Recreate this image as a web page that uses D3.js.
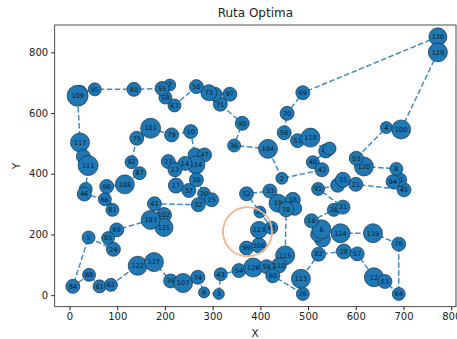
<!DOCTYPE html>
<html>
<head>
<meta charset="utf-8">
<script src="https://cdn.jsdelivr.net/npm/d3@7"></script>
<style>
  html, body { margin: 0; padding: 0; background: #fff; }
  svg { display: block; font-family: "DejaVu Sans", sans-serif; }
</style>
</head>
<body>
<div id="chart"></div>
<script>
// nodes listed in the order of the optimal route
const nodeIds = [
  "130","69","70","56","51","118","49","","40","42","2","104","36","90","71","97","","73","50","63","58","7","55","80","95","","109",
  "117","","111","","46","66","81","96","108","87","92","75","101","79","10","","47","114","14","27","13","17","37","30","20","15","32",
  "41","102","125","103","68","85","24","5","84","88","61","62","122","127","39","107","74","9","3","43","54","126","99","106","123",
  "98","25","52","33","19","18","","78","115","110","59","60","26","113","82","28","57","12","83","64","76","119","124","","","6",
  "16","38","31","91","","35","21","45","11","94","8","120","53","4","100","129"
];
const nodeX = [
  772,489,456,450,478,505,537,545,510,529,445,416,345,362,316,336,305,292,266,220,201,210,194,135,53,22,17,
  22,29,39,34,31,74,90,78,116,147,130,141,170,214,254,263,283,265,242,207,221,223,250,266,282,298,270,
  178,198,198,170,99,81,92,40,7,41,63,87,143,177,212,238,269,282,313,317,355,385,371,397,397,
  423,399,371,420,437,468,472,454,452,439,413,426,489,485,522,575,603,638,661,690,690,636,568,530,520,528,
  507,554,573,521,562,573,600,701,692,678,685,617,601,664,695,772
];
const nodeY = [
  851,667,599,535,509,519,475,483,438,413,385,482,493,566,629,662,662,667,687,625,651,692,681,678,678,668,657,
  503,457,427,350,333,316,281,358,365,402,438,517,550,528,539,462,462,429,434,440,413,361,345,380,334,314,298,
  301,264,223,248,215,188,151,190,29,67,29,34,97,109,47,40,59,9,4,69,81,91,155,164,215,
  222,274,334,343,303,314,286,283,131,98,94,64,4,54,135,144,136,59,45,4,168,204,204,185,200,217,
  245,281,290,350,362,380,365,347,380,374,416,424,451,552,546,800
];
// relative weight of each node (marker size)
const nodeW = [
  9,7,7,7,7,9.5,7,6.5,6.5,7,6,9.5,6.5,7,7,7,7,8,7,6.5,6.5,6,7,7,6.5,7,10.5,
  9.5,7,10,6.5,7,6.5,6.5,7,9.5,6.5,6.5,7,10,7,7,7,7,9,7,7,7,7.5,7,7,6.5,7,7,
  7,7.5,9,9.5,7,6.5,7,6.5,7,6.5,6.5,6.5,9.5,9.5,7,9.5,7,5.5,5.5,6.5,7,9.5,7,7.5,8.5,
  6.5,6,7,7,9,7.5,7,7.5,9.5,7.5,7,7,6.5,9.5,7,7.5,7,9.5,7,6.5,7,9.5,9.5,8,7,9.5,
  7,6.5,7,6.5,7,7.5,7,7,7,7,6.5,9.5,7,6,9.5,9.5
];
const xTicks = [0,100,200,300,400,500,600,700,800];
const yTicks = [0,200,400,600,800];
const highlight = { x: 373, y: 209 };

const W = 457, H = 339;
const plot = { left: 54.7, right: 456, top: 25, bottom: 306.7 };

const x = d3.scaleLinear().domain([-31, 810]).range([plot.left, plot.right]);
const y = d3.scaleLinear().domain([-38, 890]).range([plot.bottom, plot.top]);

const nodes = nodeIds.map((id, i) => ({ id, x: nodeX[i], y: nodeY[i], w: nodeW[i] }));

const svg = d3.select("#chart").append("svg")
  .attr("width", W).attr("height", H);

// route, closed loop
const route = nodes.concat([nodes[0]]);
svg.append("path")
  .attr("d", d3.line().x(d => x(d.x)).y(d => y(d.y))(route))
  .attr("fill", "none")
  .attr("stroke", "#3d8cc4")
  .attr("stroke-width", 1.5)
  .attr("stroke-dasharray", "5.5,2.5");

const g = svg.append("g").selectAll("g")
  .data(nodes)
  .join("g")
  .attr("transform", d => `translate(${x(d.x)},${y(d.y)})`);

g.append("circle")
  .attr("r", d => d.w)
  .attr("fill", "#1f77b4")
  .attr("stroke", "#15314a")
  .attr("stroke-width", 0.7);

g.append("text")
  .attr("text-anchor", "middle")
  .attr("dy", "0.35em")
  .attr("font-size", 6.5)
  .attr("fill", "#0d1b2a")
  .text(d => d.id);

// highlight ring
svg.append("circle")
  .attr("cx", x(highlight.x)).attr("cy", y(highlight.y))
  .attr("r", 24.5)
  .attr("fill", "none")
  .attr("stroke", "#f2b48a")
  .attr("stroke-width", 1.8);

// frame
svg.append("rect")
  .attr("x", plot.left).attr("y", plot.top)
  .attr("width", plot.right - plot.left).attr("height", plot.bottom - plot.top)
  .attr("fill", "none").attr("stroke", "#222").attr("stroke-width", 0.8);

const xAxis = svg.append("g")
  .attr("transform", `translate(0,${plot.bottom})`)
  .call(d3.axisBottom(x).tickValues(xTicks).tickSize(3.5).tickPadding(3).tickFormat(d3.format("d")));
const yAxis = svg.append("g")
  .attr("transform", `translate(${plot.left},0)`)
  .call(d3.axisLeft(y).tickValues(yTicks).tickSize(3.5).tickPadding(3).tickFormat(d3.format("d")));
[xAxis, yAxis].forEach(a => {
  a.select(".domain").remove();
  a.selectAll("line").attr("stroke", "#222");
  a.selectAll("text").attr("font-size", 10).attr("fill", "#222").attr("font-family", "DejaVu Sans, sans-serif");
});

svg.append("text")
  .attr("x", (plot.left + plot.right) / 2).attr("y", 17)
  .attr("text-anchor", "middle").attr("font-size", 12).attr("fill", "#222")
  .text("Ruta Optima");
svg.append("text")
  .attr("x", 255).attr("y", 337)
  .attr("text-anchor", "middle").attr("font-size", 10.5).attr("fill", "#222")
  .text("X");
svg.append("text")
  .attr("transform", "translate(20,166) rotate(-90)")
  .attr("text-anchor", "middle").attr("font-size", 10.5).attr("fill", "#222")
  .text("Y");
</script>
</body>
</html>
